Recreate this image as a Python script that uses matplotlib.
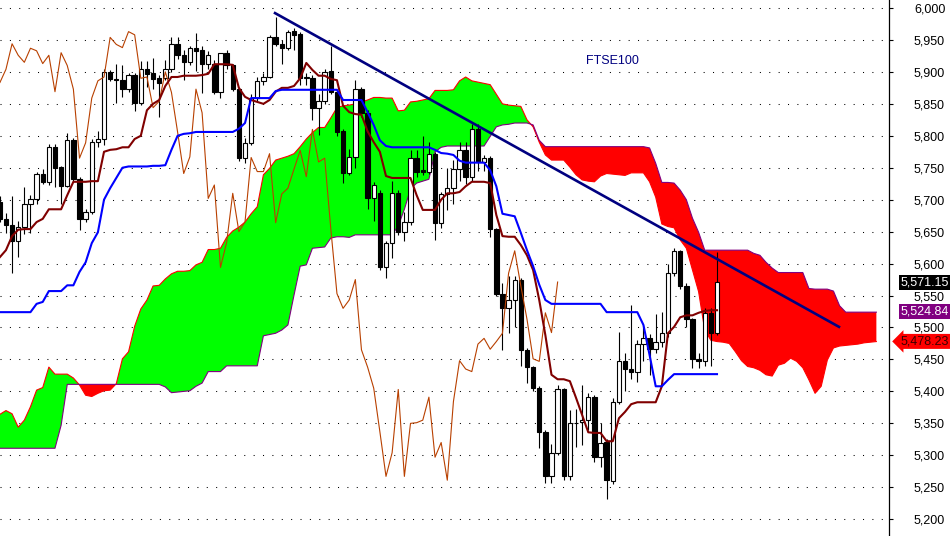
import matplotlib.pyplot as plt
import matplotlib.transforms as mtransforms
from matplotlib.ticker import FuncFormatter

plt.rcParams['font.family'] = ['Liberation Sans', 'DejaVu Sans']

# daily FTSE100 candles, oldest first
opens = [5696, 5669, 5661, 5636, 5657, 5693, 5701, 5740, 5727, 5782,
         5751, 5722, 5794, 5732, 5669, 5680, 5790, 5795, 5900, 5889,
         5888, 5873, 5895, 5851, 5904, 5899, 5891, 5891, 5904, 5944,
         5926, 5915, 5937, 5934, 5913, 5913, 5869, 5930, 5910, 5873,
         5765, 5789, 5859, 5886, 5892, 5954, 5944, 5938, 5964, 5959,
         5890, 5890, 5844, 5854, 5901, 5868, 5807, 5741, 5767, 5873,
         5836, 5702, 5710, 5594, 5633, 5710, 5650, 5665, 5766, 5746,
         5744, 5772, 5664, 5709, 5718, 5748, 5777, 5736, 5810, 5759,
         5765, 5654, 5553, 5530, 5543, 5575, 5465, 5438, 5405, 5337,
         5267, 5304, 5403, 5267, 5350, 5352, 5356, 5391, 5297, 5321,
         5260, 5384, 5448, 5435, 5431, 5474, 5483, 5466, 5478, 5491,
         5585, 5620, 5565, 5513, 5451, 5447, 5523, 5492]
highs = [5705, 5679, 5705, 5666, 5720, 5707, 5743, 5748, 5787, 5787,
         5753, 5805, 5796, 5735, 5685, 5795, 5808, 5905, 5903, 5913,
         5910, 5898, 5898, 5917, 5917, 5921, 5895, 5918, 5955, 5955,
         5935, 5940, 5961, 5940, 5932, 5918, 5930, 5935, 5912, 5875,
         5796, 5865, 5892, 5898, 5958, 5986, 5950, 5966, 5968, 5962,
         5898, 5895, 5866, 5905, 5940, 5872, 5810, 5780, 5887, 5876,
         5840, 5728, 5715, 5635, 5729, 5715, 5680, 5778, 5778, 5799,
         5790, 5775, 5712, 5749, 5762, 5790, 5790, 5818, 5818, 5770,
         5768, 5656, 5569, 5580, 5580, 5578, 5468, 5440, 5408, 5340,
         5318, 5410, 5405, 5371, 5372, 5410, 5398, 5395, 5350, 5325,
         5390, 5493, 5460, 5535, 5481, 5504, 5490, 5521, 5525, 5600,
         5625, 5622, 5570, 5515, 5460, 5530, 5530, 5618]
lows = [5665, 5648, 5585, 5610, 5647, 5648, 5694, 5725, 5723, 5720,
        5694, 5720, 5730, 5652, 5665, 5678, 5782, 5785, 5885, 5851,
        5860, 5868, 5839, 5848, 5877, 5874, 5829, 5888, 5900, 5920,
        5887, 5910, 5902, 5867, 5905, 5865, 5859, 5905, 5870, 5761,
        5758, 5785, 5855, 5880, 5890, 5940, 5912, 5935, 5935, 5880,
        5880, 5825, 5801, 5850, 5865, 5800, 5726, 5738, 5749, 5830,
        5686, 5667, 5590, 5577, 5608, 5645, 5635, 5660, 5735, 5739,
        5740, 5637, 5655, 5684, 5693, 5730, 5724, 5730, 5745, 5745,
        5642, 5550, 5465, 5491, 5500, 5439, 5413, 5400, 5311, 5257,
        5256, 5300, 5262, 5262, 5313, 5316, 5340, 5290, 5282, 5231,
        5255, 5380, 5400, 5420, 5415, 5447, 5426, 5460, 5470, 5485,
        5580, 5560, 5500, 5436, 5436, 5440, 5439, 5488]
closes = [5669, 5661, 5636, 5658, 5693, 5701, 5740, 5727, 5782, 5750,
          5722, 5794, 5732, 5669, 5680, 5790, 5795, 5900, 5889, 5888,
          5873, 5895, 5851, 5904, 5897, 5889, 5883, 5904, 5944, 5926,
          5915, 5937, 5933, 5913, 5926, 5869, 5930, 5910, 5873, 5765,
          5789, 5859, 5886, 5892, 5954, 5943, 5938, 5963, 5958, 5890,
          5892, 5844, 5854, 5900, 5868, 5806, 5741, 5767, 5873, 5836,
          5702, 5723, 5594, 5633, 5710, 5650, 5665, 5766, 5744, 5744,
          5772, 5664, 5709, 5718, 5748, 5777, 5736, 5810, 5759, 5765,
          5654, 5553, 5530, 5543, 5575, 5465, 5438, 5405, 5337, 5267,
          5304, 5403, 5267, 5350, 5351, 5355, 5391, 5297, 5320, 5261,
          5384, 5448, 5435, 5431, 5474, 5483, 5466, 5478, 5491, 5585,
          5620, 5565, 5513, 5451, 5447, 5523, 5492, 5571.15]

# ichimoku lines
tenkan = [5610, 5621, 5643, 5653, 5654, 5654, 5665, 5670, 5685, 5685,
          5685, 5707, 5728, 5728, 5728, 5729, 5729, 5775, 5778, 5779,
          5782, 5782, 5795, 5800, 5840, 5850, 5856, 5878, 5892, 5892,
          5894, 5894, 5894, 5895, 5897, 5912, 5912, 5912, 5911, 5875,
          5861, 5856, 5853, 5850, 5856, 5869, 5875, 5875, 5878, 5890,
          5914, 5903, 5894, 5894, 5889, 5887, 5847, 5837, 5834, 5833,
          5807, 5790, 5775, 5737, 5734, 5734, 5734, 5734, 5707, 5684,
          5684, 5684, 5700, 5710, 5710, 5712, 5721, 5728, 5728, 5728,
          5726, 5676, 5643, 5642, 5642, 5629, 5613, 5590, 5543, 5488,
          5426, 5419, 5419, 5416, 5390, 5363, 5336, 5335, 5335, 5322,
          5322, 5358, 5368, 5380, 5383, 5383, 5383, 5383, 5408, 5491,
          5501, 5516, 5519, 5519, 5523, 5526, 5527, 5527]
kijun = [5524, 5524, 5524, 5524, 5524, 5524, 5537, 5540, 5557, 5557,
         5557, 5566, 5566, 5587, 5602, 5632, 5649, 5700, 5718, 5734,
         5750, 5752, 5752, 5752, 5752, 5753, 5753, 5754, 5778, 5800,
         5803, 5804, 5806, 5806, 5806, 5806, 5806, 5806, 5806, 5811,
         5820, 5859, 5859, 5859, 5859, 5870, 5872, 5872, 5872, 5872,
         5872, 5872, 5872, 5872, 5872, 5872, 5856, 5856, 5856, 5856,
         5837, 5817, 5793, 5784, 5782, 5782, 5782, 5782, 5782, 5782,
         5782, 5778, 5773, 5772, 5770, 5761, 5758, 5758, 5758, 5758,
         5746, 5721, 5678, 5676, 5674, 5648, 5621, 5596, 5567, 5543,
         5537, 5537, 5537, 5537, 5537, 5537, 5537, 5537, 5537, 5524,
         5524, 5524, 5524, 5524, 5524, 5504, 5457, 5408, 5408, 5418,
         5427, 5427, 5427, 5427, 5427, 5427, 5427, 5427]
# cloud spans run 26 bars past the last candle
senkou_a = [5364, 5370, 5365, 5344, 5355, 5376, 5402, 5406, 5438, 5427,
            5427, 5427, 5421, 5410, 5394, 5392, 5397, 5401, 5402, 5412,
            5451, 5462, 5502, 5529, 5543, 5565, 5566, 5576, 5584, 5588,
            5588, 5589, 5598, 5602, 5622, 5622, 5624, 5641, 5651, 5657,
            5665, 5678, 5689, 5739, 5749, 5762, 5765, 5768, 5772, 5783,
            5795, 5805, 5813, 5813, 5828, 5844, 5847, 5848, 5850, 5853,
            5856, 5860, 5860, 5859, 5859, 5839, 5840, 5853, 5854, 5856,
            5858, 5871, 5871, 5871, 5872, 5886, 5892, 5886, 5884, 5882,
            5880, 5865, 5850, 5848, 5847, 5846, 5825, 5814, 5790, 5770,
            5762, 5762, 5762, 5751, 5739, 5731, 5729, 5728, 5737, 5741,
            5740, 5739, 5738, 5742, 5742, 5742, 5728, 5704, 5662, 5658,
            5656, 5637, 5624, 5590, 5556, 5496, 5480, 5478, 5477, 5475,
            5462, 5448, 5439, 5437, 5433, 5426, 5424, 5441, 5444, 5452,
            5447, 5437, 5418, 5397, 5408, 5449, 5468, 5471, 5472, 5473,
            5474, 5476, 5477, 5478]
senkou_b = [5311, 5311, 5311, 5311, 5311, 5311, 5311, 5311, 5311, 5311,
            5347, 5411, 5411, 5411, 5411, 5411, 5411, 5411, 5411, 5411,
            5411, 5411, 5411, 5411, 5411, 5411, 5411, 5407, 5398, 5399,
            5400, 5401, 5408, 5413, 5431, 5431, 5431, 5440, 5440, 5440,
            5440, 5440, 5440, 5487, 5489, 5491, 5496, 5504, 5551, 5596,
            5598, 5624, 5625, 5626, 5640, 5642, 5642, 5641, 5645, 5645,
            5645, 5645, 5645, 5645, 5645, 5659, 5685, 5717, 5726, 5729,
            5732, 5775, 5782, 5784, 5784, 5784, 5784, 5784, 5784, 5784,
            5799, 5814, 5817, 5818, 5820, 5820, 5820, 5817, 5793, 5783,
            5783, 5783, 5783, 5783, 5783, 5783, 5783, 5783, 5783, 5783,
            5783, 5783, 5783, 5783, 5783, 5783, 5781, 5757, 5727, 5727,
            5726, 5715, 5700, 5671, 5649, 5621, 5621, 5621, 5621, 5621,
            5621, 5621, 5621, 5616, 5613, 5602, 5593, 5586, 5586, 5586,
            5586, 5586, 5561, 5560, 5560, 5560, 5557, 5534, 5524, 5524,
            5524, 5524, 5524, 5524]
lag = 26

trend_x = [44.9, 136.9]
trend_y = [5992, 5501]

tag_values = [5571.15, 5524.84, 5478.23]
tag_faces = ['black', '#800080', '#ff0000']
tag_texts = ['white', 'white', '#3a0000']

idx = list(range(len(closes)))
cloud_idx = list(range(len(senkou_a)))

fig = plt.figure(figsize=(9.5, 5.36), dpi=100)
ax = fig.add_axes([0, 0, 889 / 950, 1])

# kumo
a_above = [a >= b for a, b in zip(senkou_a, senkou_b)]
ax.fill_between(cloud_idx, senkou_a, senkou_b, where=a_above, interpolate=True,
                color='#00ff00', lw=0, zorder=1)
ax.fill_between(cloud_idx, senkou_a, senkou_b, where=[not v for v in a_above],
                interpolate=True, color='#ff0000', lw=0, zorder=1)
ax.plot(cloud_idx, senkou_a, color='#ff0000', lw=0.8, zorder=2)
ax.plot(cloud_idx, senkou_b, color='#800080', lw=0.8, zorder=2)

# candles
bottoms = [min(o, c) for o, c in zip(opens, closes)]
heights = [abs(c - o) for o, c in zip(opens, closes)]
faces = ['white' if c >= o else 'black' for o, c in zip(opens, closes)]
ax.vlines(idx, lows, highs, color='black', lw=0.8, zorder=3)
ax.bar(idx, heights, bottom=bottoms, width=0.72, color=faces,
       edgecolor='black', lw=0.8, zorder=4)

# chikou, tenkan, kijun, trendline
ax.plot([i - lag for i in idx], closes, color='#b84000', lw=0.8, zorder=5)
ax.plot(idx, tenkan, color='#800000', lw=1.5, zorder=6)
ax.plot(idx, kijun, color='#0000ff', lw=1.5, zorder=6)
ax.plot(trend_x, trend_y, color='#000080', lw=1.9, zorder=7)

ax.set_xlim(0.03, 145.06)
ax.set_ylim(5173.7, 6012.5)
ax.set_xticks([])
ax.set_yticks(range(5200, 6001, 50))
ax.yaxis.tick_right()
ax.yaxis.set_major_formatter(FuncFormatter(lambda v, p: f'{v:,.0f}'))
ax.tick_params(axis='y', direction='out', length=3, width=0.8, pad=15,
               labelsize=9, colors='black')
for s in ['top', 'left', 'bottom']:
    ax.spines[s].set_visible(False)
ax.spines['right'].set_linewidth(0.9)
ax.grid(axis='y', color='black', linestyle=(0, (1, 8)), lw=0.75)
ax.set_axisbelow(True)

ax.text(612 / 889, 1 - 61 / 536, 'FTSE100', transform=ax.transAxes,
        color='#000080', fontsize=9, ha='center', va='center')

trans = mtransforms.blended_transform_factory(ax.transAxes, ax.transData)
for v, fc, tc in zip(tag_values, tag_faces, tag_texts):
    style = 'larrow,pad=0.12' if fc == '#ff0000' else 'square,pad=0.12'
    ax.text(1.0125, v, f'{v:,.2f}', transform=trans, ha='left', va='center',
            color=tc, fontsize=9, clip_on=False,
            bbox=dict(boxstyle=style, fc=fc, ec='none'))

fig.savefig('out.png', dpi=100)
